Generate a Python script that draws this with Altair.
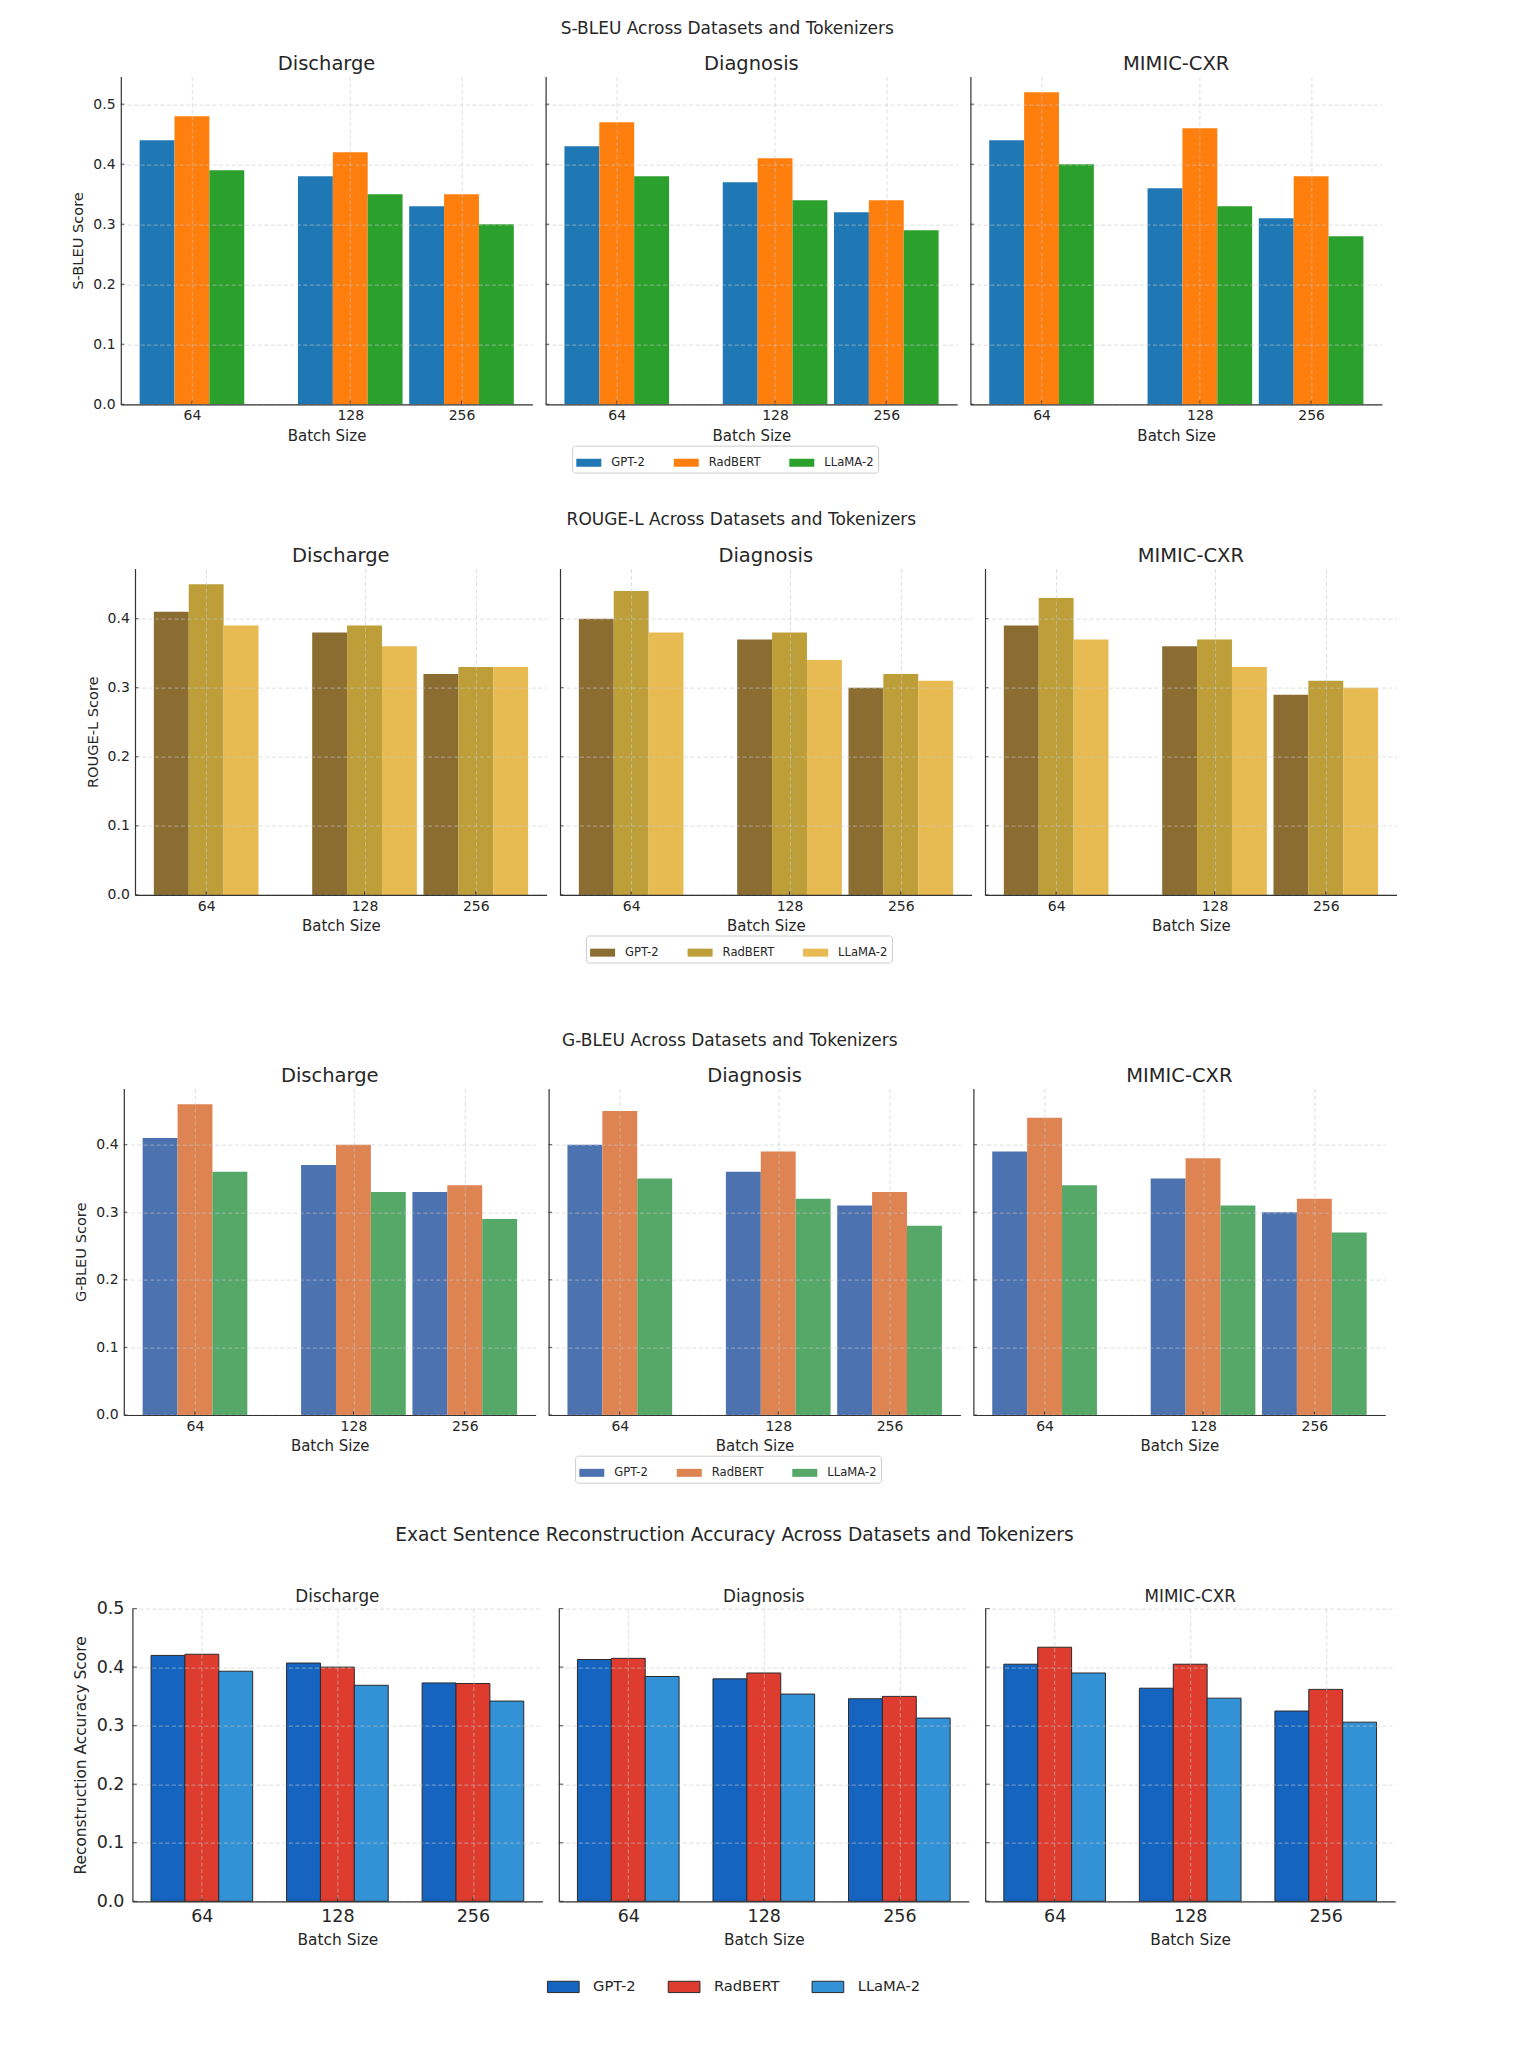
import altair as alt
import pandas as pd

FONT = "DejaVu Sans"
INK = "#262626"
SPINE = "#333333"

DATASETS = ["Discharge", "Diagnosis", "MIMIC-CXR"]
TOKENIZERS = ["GPT-2", "RadBERT", "LLaMA-2"]
BATCH_SIZES = [64, 128, 256]
BATCH_LABELS = ["64", "128", "256"]

# scores[dataset][tokenizer] -> values for batch sizes 64, 128, 256
S_BLEU = {
    "Discharge": {"GPT-2": [0.44, 0.38, 0.33], "RadBERT": [0.48, 0.42, 0.35], "LLaMA-2": [0.39, 0.35, 0.30]},
    "Diagnosis": {"GPT-2": [0.43, 0.37, 0.32], "RadBERT": [0.47, 0.41, 0.34], "LLaMA-2": [0.38, 0.34, 0.29]},
    "MIMIC-CXR": {"GPT-2": [0.44, 0.36, 0.31], "RadBERT": [0.52, 0.46, 0.38], "LLaMA-2": [0.40, 0.33, 0.28]},
}
ROUGE_L = {
    "Discharge": {"GPT-2": [0.41, 0.38, 0.32], "RadBERT": [0.45, 0.39, 0.33], "LLaMA-2": [0.39, 0.36, 0.33]},
    "Diagnosis": {"GPT-2": [0.40, 0.37, 0.30], "RadBERT": [0.44, 0.38, 0.32], "LLaMA-2": [0.38, 0.34, 0.31]},
    "MIMIC-CXR": {"GPT-2": [0.39, 0.36, 0.29], "RadBERT": [0.43, 0.37, 0.31], "LLaMA-2": [0.37, 0.33, 0.30]},
}
G_BLEU = {
    "Discharge": {"GPT-2": [0.41, 0.37, 0.33], "RadBERT": [0.46, 0.40, 0.34], "LLaMA-2": [0.36, 0.33, 0.29]},
    "Diagnosis": {"GPT-2": [0.40, 0.36, 0.31], "RadBERT": [0.45, 0.39, 0.33], "LLaMA-2": [0.35, 0.32, 0.28]},
    "MIMIC-CXR": {"GPT-2": [0.39, 0.35, 0.30], "RadBERT": [0.44, 0.38, 0.32], "LLaMA-2": [0.34, 0.31, 0.27]},
}
EXACT = {
    "Discharge": {"GPT-2": [0.420, 0.407, 0.373], "RadBERT": [0.422, 0.400, 0.372], "LLaMA-2": [0.393, 0.369, 0.342]},
    "Diagnosis": {"GPT-2": [0.413, 0.380, 0.346], "RadBERT": [0.415, 0.390, 0.350], "LLaMA-2": [0.384, 0.354, 0.313]},
    "MIMIC-CXR": {"GPT-2": [0.405, 0.364, 0.325], "RadBERT": [0.434, 0.405, 0.362], "LLaMA-2": [0.390, 0.347, 0.306]},
}

PALETTES = {
    "sbleu": ["#1f77b4", "#ff7f0e", "#2ca02c"],
    "rouge": ["#8c6d31", "#bd9e39", "#e7ba52"],
    "gbleu": ["#4c72b0", "#dd8452", "#55a868"],
    "exact": ["#1565c0", "#dd3c2f", "#3391d5"],
}

# group placement on the x axis: centres in bar widths (bar = 1) for the
# metric figures, evenly spaced categories for the accuracy figure
IRREGULAR = dict(centers=[2.04, 6.58, 9.77], bar=1.0, domain=[0.0, 11.8])
EVEN = dict(centers=[0.0, 1.0, 2.0], bar=0.25, domain=[-0.5125, 2.5125])

PLAIN_TEXT = dict(sup=17.0, head=19.5, tick=14.0, axis_title=14.6, x_title=15.0,
                  x_lab_pad=4.7, x_title_pad=5.2, y_lab_pad=5.7, y_title_pad=7.0, tick_len=3.5)
BIG_TEXT = dict(sup=18.6, head=16.8, tick=17.5, axis_title=15.4, x_title=15.4,
                x_lab_pad=6.6, x_title_pad=6.7, y_lab_pad=8.4, y_title_pad=7.4, tick_len=4.5)

FIGURES = [
    dict(title="S-BLEU Across Datasets and Tokenizers", ylabel="S-BLEU Score", scores=S_BLEU,
         colors=PALETTES["sbleu"], ymax=0.546, groups=IRREGULAR, edged=False, text=PLAIN_TEXT,
         left=120.3, width=411.5, height=327.7, gap=12.8, bottom=433.1, sup_dx=36.4,
         sup_offset=16.2, head_offset=1.6, legend_xy=(26.5, 369.0)),
    dict(title="ROUGE-L Across Datasets and Tokenizers", ylabel="ROUGE-L Score", scores=ROUGE_L,
         colors=PALETTES["rouge"], ymax=0.4725, groups=IRREGULAR, edged=False, text=PLAIN_TEXT,
         left=135.0, width=411.6, height=326.3, gap=13.0, bottom=462.8, sup_dx=43.1,
         sup_offset=17.1, head_offset=1.6, legend_xy=(25.9, 366.9)),
    dict(title="G-BLEU Across Datasets and Tokenizers", ylabel="G-BLEU Score", scores=G_BLEU,
         colors=PALETTES["gbleu"], ymax=0.483, groups=IRREGULAR, edged=False, text=PLAIN_TEXT,
         left=123.4, width=411.8, height=326.4, gap=12.8, bottom=436.2, sup_dx=37.2,
         sup_offset=16.8, head_offset=1.6, legend_xy=(26.5, 367.1)),
    dict(title="Exact Sentence Reconstruction Accuracy Across Datasets and Tokenizers",
         ylabel="Reconstruction Accuracy Score", scores=EXACT,
         colors=PALETTES["exact"], ymax=0.5, groups=EVEN, edged=True, text=BIG_TEXT,
         left=132.3, width=410.0, height=292.7, gap=16.4, bottom=430.0, sup_dx=36.85,
         sup_offset=44.0, head_offset=-6.0, legend_xy=(-12.0, 361.4)),
]


def long_table(scores, groups):
    """One row per bar, with its left/right edge on the group axis."""
    rows = []
    w = groups["bar"]
    for d in DATASETS:
        for j, tok in enumerate(TOKENIZERS):
            for i, b in enumerate(BATCH_SIZES):
                mid = groups["centers"][i] + (j - 1) * w
                rows.append(dict(dataset=d, tokenizer=tok, batch=b,
                                 score=scores[d][tok][i], x0=mid - w / 2, x1=mid + w / 2))
    return pd.DataFrame(rows)


def batch_label_expr(centers):
    cuts = [(centers[i] + centers[i + 1]) / 2 for i in range(len(centers) - 1)]
    expr = f"'{BATCH_LABELS[-1]}'"
    for cut, lab in reversed(list(zip(cuts, BATCH_LABELS[:-1]))):
        expr = f"datum.value < {cut} ? '{lab}' : ({expr})"
    return expr


def legend_for(fig):
    lx, ly = fig["legend_xy"]
    common = dict(orient="none", legendX=lx, legendY=ly, direction="horizontal", columns=3,
                  title=None, labelFont=FONT, labelColor=INK, symbolOpacity=1)
    if fig["edged"]:
        return alt.Legend(symbolType="M-1,-0.356H1V0.356H-1Z", symbolSize=1005,
                          symbolStrokeColor="#2a2a2a", symbolStrokeWidth=1,
                          labelFontSize=14.7, labelOffset=13.3, columnPadding=29.8,
                          padding=0, **common)
    return alt.Legend(symbolType="M-1,-0.32H1V0.32H-1Z", symbolSize=625, symbolStrokeWidth=0,
                      labelFontSize=11.6, labelOffset=10, columnPadding=28.5, padding=4.2,
                      strokeColor="#cccccc", fillColor="#ffffff", cornerRadius=3, **common)


def margin_block(fig):
    """Empty, invisible block on the left of a row; it sets the row's left margin and depth."""
    w = fig["left"] - fig["gap"]
    return alt.Chart(pd.DataFrame({"edge": [0]})).mark_rect(opacity=0).encode(
        x=alt.value(0), x2=alt.value(w), y=alt.value(0), y2=alt.value(fig["bottom"])
    ).properties(width=w, height=fig["height"])


def panel(fig, k):
    t = fig["text"]
    g = fig["groups"]
    first = k == 0
    df = long_table(fig["scores"], g)
    df = df[df["dataset"] == DATASETS[k]]
    yticks = [round(v * 0.1, 1) for v in range(0, 6) if v * 0.1 <= fig["ymax"] + 1e-9]

    x_scale = alt.Scale(domain=g["domain"], nice=False, zero=False)
    y_scale = alt.Scale(domain=[0, fig["ymax"]], nice=False)
    x_axis = alt.Axis(values=g["centers"], labelExpr=batch_label_expr(g["centers"]),
                      title="Batch Size", grid=True, ticks=False, labelAngle=0,
                      labelFontSize=t["tick"], titleFontSize=t["x_title"],
                      labelPadding=t["x_lab_pad"], titlePadding=t["x_title_pad"], zindex=1)
    # shared y axis: only the first panel shows its labels, the others keep them hidden
    y_axis = alt.Axis(values=yticks, format=".1f", grid=True, ticks=False,
                      labelOpacity=1 if first else 0, title=fig["ylabel"] if first else None,
                      labelFontSize=t["tick"], titleFontSize=t["axis_title"],
                      labelPadding=t["y_lab_pad"], titlePadding=t["y_title_pad"], zindex=1)

    bar_style = dict(stroke="#2a2a2a", strokeWidth=1) if fig["edged"] else dict(strokeWidth=0)
    bars = alt.Chart(df).mark_bar(**bar_style).encode(
        x=alt.X("x0:Q", scale=x_scale, axis=x_axis),
        x2="x1:Q",
        y=alt.Y("score:Q", scale=y_scale, axis=y_axis),
        y2=alt.datum(0),
        color=alt.Color("tokenizer:N", scale=alt.Scale(domain=TOKENIZERS, range=fig["colors"]),
                        legend=legend_for(fig) if k == 1 else None),
        tooltip=["dataset", "tokenizer", "batch", "score"],
    )
    # short inward tick marks on both spines
    tl = t["tick_len"]
    y_ticks = alt.Chart(pd.DataFrame({"tick": yticks})).mark_rule(color=SPINE, strokeWidth=1).encode(
        y=alt.Y("tick:Q", scale=y_scale, axis=y_axis), x=alt.value(0), x2=alt.value(tl))
    x_ticks = alt.Chart(pd.DataFrame({"tick": g["centers"]})).mark_rule(color=SPINE, strokeWidth=1).encode(
        x=alt.X("tick:Q", scale=x_scale, axis=x_axis),
        y=alt.value(fig["height"]), y2=alt.value(fig["height"] - tl))

    head = alt.TitleParams(text=DATASETS[k], fontSize=t["head"], offset=fig["head_offset"],
                           font=FONT, fontWeight="normal", color=INK, anchor="middle")
    return alt.layer(bars, y_ticks, x_ticks).properties(
        width=fig["width"], height=fig["height"], title=head)


def figure_row(fig):
    t = fig["text"]
    row = alt.hconcat(margin_block(fig), *[panel(fig, k) for k in range(3)],
                      spacing=fig["gap"], bounds="flush")
    sup = alt.TitleParams(text=fig["title"], fontSize=t["sup"], offset=fig["sup_offset"],
                          dx=fig["sup_dx"], font=FONT, fontWeight="normal", color=INK,
                          anchor="middle")
    return row.properties(title=sup).resolve_scale(color="independent", x="independent",
                                                   y="independent")


chart = alt.concat(*[figure_row(f) for f in FIGURES], columns=1, spacing=0,
                   align="none").resolve_scale(
    color="independent", x="independent", y="independent"
).properties(
    padding={"left": 0, "top": 19.6, "right": 0, "bottom": 0},
    background="#ffffff",
).configure(font=FONT).configure_view(stroke=None).configure_axis(
    domainColor=SPINE, domainWidth=1.2, labelColor=INK, titleColor=INK,
    labelFont=FONT, titleFont=FONT, titleFontWeight="normal",
    gridColor="#c8c8c8", gridOpacity=0.75, gridDash=[4, 2.5], gridWidth=0.8,
)

chart.save("out.html", embed_options={"renderer": "svg", "actions": False})
